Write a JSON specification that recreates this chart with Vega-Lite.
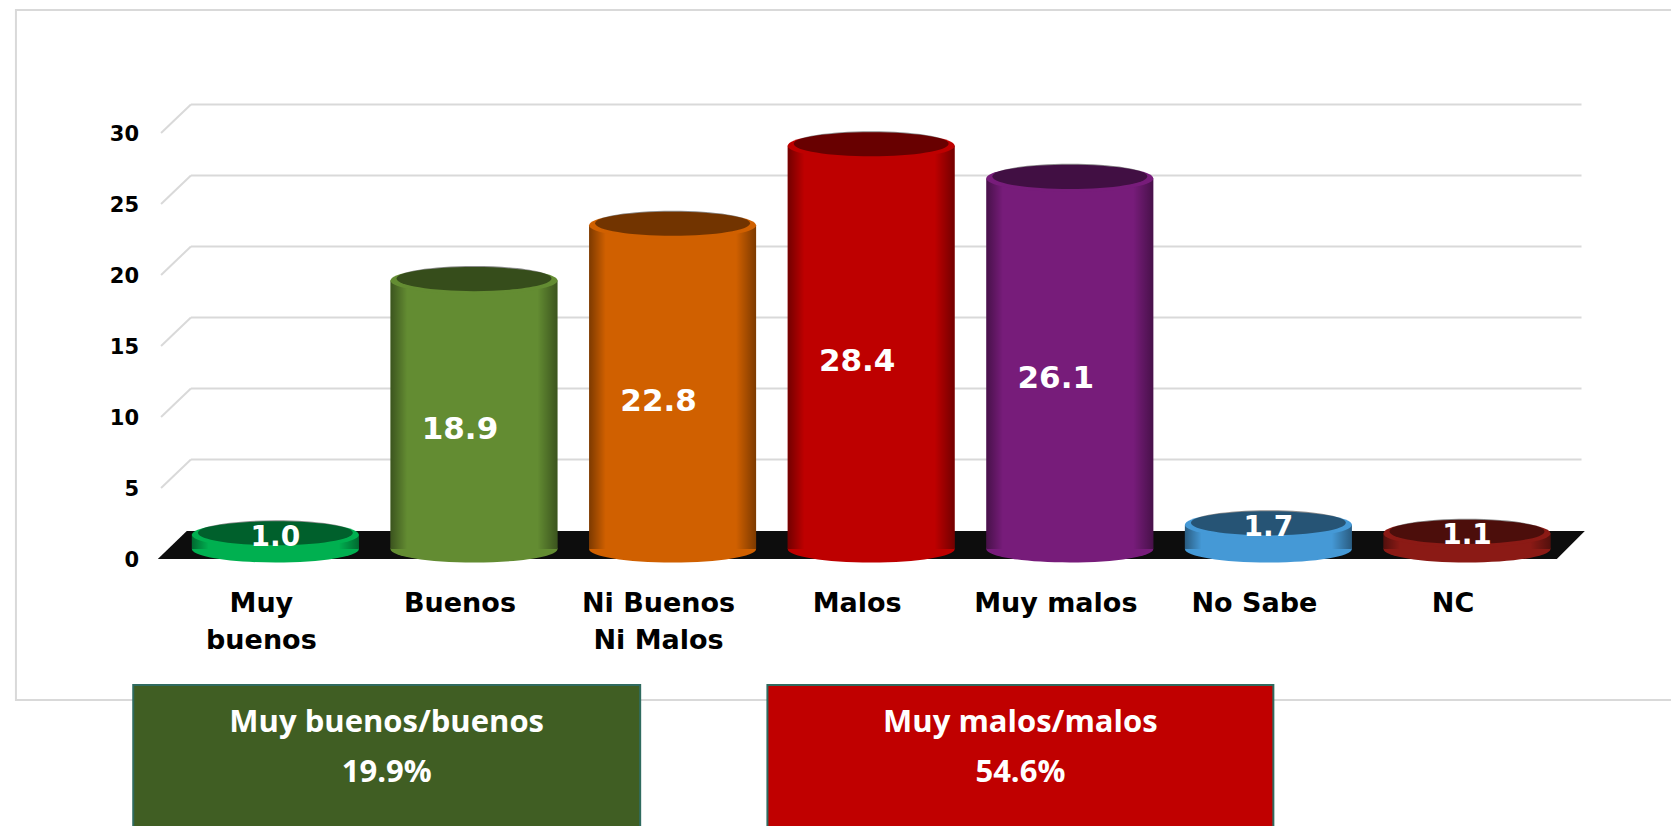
{
  "$schema": "https://vega.github.io/schema/vega-lite/v6.json",
  "width": 1671,
  "height": 826,
  "autosize": {"type": "none"},
  "padding": 0,
  "background": "white",
  "config": {"view": {"stroke": null}},
  "datasets": {
    "resultados": [
      {"categoria": "Muy buenos", "etiqueta": "Muy\nbuenos", "valor": 1.0},
      {"categoria": "Buenos", "etiqueta": "Buenos", "valor": 18.9},
      {"categoria": "Ni Buenos Ni Malos", "etiqueta": "Ni Buenos\nNi Malos", "valor": 22.8},
      {"categoria": "Malos", "etiqueta": "Malos", "valor": 28.4},
      {"categoria": "Muy malos", "etiqueta": "Muy malos", "valor": 26.1},
      {"categoria": "No Sabe", "etiqueta": "No Sabe", "valor": 1.7},
      {"categoria": "NC", "etiqueta": "NC", "valor": 1.1}
    ],
    "resumen": [
      {"grupo": "Muy buenos/buenos", "total": 0.199},
      {"grupo": "Muy malos/malos", "total": 0.546}
    ],
    "ticks": [{"t": 0}, {"t": 5}, {"t": 10}, {"t": 15}, {"t": 20}, {"t": 25}, {"t": 30}]
  },
  "layer": [
    {
      "data": {"values": [{}]},
      "mark": {"type": "rect", "fill": "white", "stroke": "#d9d9d9", "strokeWidth": 2},
      "encoding": {
        "x": {"datum": -0.3063, "type": "quantitative", "scale": {"domain": [-0.3614, 8.002], "nice": false, "zero": false}, "axis": null},
        "x2": {"datum": 8.3},
        "y": {"datum": 38.662, "type": "quantitative", "scale": {"domain": [-18.803, 39.366], "nice": false, "zero": false}, "axis": null},
        "y2": {"datum": -9.93}
      }
    },
    {
      "data": {"name": "ticks"},
      "transform": [{"filter": "datum.t > 0"}],
      "mark": {"type": "rule", "color": "#d9d9d9", "strokeWidth": 2, "y2Offset": -28.5},
      "encoding": {
        "x": {"datum": 0.4244, "type": "quantitative", "scale": {"domain": [-0.3614, 8.002], "nice": false, "zero": false}, "axis": null},
        "x2": {"datum": 0.5746},
        "y": {"field": "t", "type": "quantitative", "scale": {"domain": [-18.803, 39.366], "nice": false, "zero": false}, "axis": null},
        "y2": {"field": "t"}
      }
    },
    {
      "data": {"name": "ticks"},
      "transform": [{"filter": "datum.t > 0"}],
      "mark": {"type": "rule", "color": "#d9d9d9", "strokeWidth": 2, "yOffset": -28.5},
      "encoding": {
        "x": {"datum": 0.5746, "type": "quantitative", "scale": {"domain": [-0.3614, 8.002], "nice": false, "zero": false}, "axis": null},
        "x2": {"datum": 7.5766},
        "y": {"field": "t", "type": "quantitative", "scale": {"domain": [-18.803, 39.366], "nice": false, "zero": false}, "axis": null}
      }
    },
    {
      "data": {"name": "ticks"},
      "mark": {"type": "text", "font": "DejaVu Sans", "fontSize": 21, "fontWeight": "bold", "color": "#000000", "align": "right", "baseline": "middle", "dx": -22, "dy": 2},
      "encoding": {
        "x": {"datum": 0.4244, "type": "quantitative", "scale": {"domain": [-0.3614, 8.002], "nice": false, "zero": false}, "axis": null},
        "y": {"field": "t", "type": "quantitative", "scale": {"domain": [-18.803, 39.366], "nice": false, "zero": false}, "axis": null},
        "text": {"field": "t", "type": "quantitative", "format": "d"}
      }
    },
    {
      "data": {"values": [{}]},
      "mark": {"type": "point", "shape": "M-7.135,0.14L6.855,0.14L7.135,-0.14L-6.845,-0.14Z", "size": 40000, "filled": true, "opacity": 1, "color": "#0d0d0d", "strokeWidth": 0, "yOffset": -14},
      "encoding": {
        "x": {"datum": 4.0005, "type": "quantitative", "scale": {"domain": [-0.3614, 8.002], "nice": false, "zero": false}, "axis": null},
        "y": {"datum": 0, "type": "quantitative", "scale": {"domain": [-18.803, 39.366], "nice": false, "zero": false}, "axis": null}
      }
    },
    {
      "data": {"name": "resultados"},
      "transform": [
        {"window": [{"op": "row_number", "as": "orden"}]},
        {"calculate": "datum.valor / 2", "as": "mitad"}
      ],
      "layer": [
        {
          "mark": {"type": "point", "shape": "M-1,0A1,0.162,0,1,0,1,0A1,0.162,0,1,0,-1,0Z", "size": 27889, "filled": true, "opacity": 1, "strokeWidth": 0, "yOffset": -10},
          "encoding": {
            "x": {"field": "orden", "type": "quantitative", "scale": {"domain": [-0.3614, 8.002], "nice": false, "zero": false}, "axis": null},
            "y": {"datum": 0, "type": "quantitative", "scale": {"domain": [-18.803, 39.366], "nice": false, "zero": false}, "axis": null},
            "color": {"field": "categoria", "type": "nominal", "scale": {"domain": ["Muy buenos", "Buenos", "Ni Buenos Ni Malos", "Malos", "Muy malos", "No Sabe", "NC"], "range": ["#00B050", "#638C32", "#D06000", "#BE0000", "#771C7A", "#4599D6", "#8B1A15"]}, "legend": null}
          }
        },
        {
          "mark": {"type": "bar", "width": 167, "orient": "vertical", "yOffset": -10, "y2Offset": -10},
          "encoding": {
            "x": {"field": "orden", "type": "quantitative", "scale": {"domain": [-0.3614, 8.002], "nice": false, "zero": false}, "axis": null},
            "y": {"field": "valor", "type": "quantitative", "scale": {"domain": [-18.803, 39.366], "nice": false, "zero": false}, "axis": null},
            "y2": {"datum": 0},
            "color": {"field": "categoria", "type": "nominal", "scale": {"domain": ["Muy buenos", "Buenos", "Ni Buenos Ni Malos", "Malos", "Muy malos", "No Sabe", "NC"], "range": ["#00B050", "#638C32", "#D06000", "#BE0000", "#771C7A", "#4599D6", "#8B1A15"]}, "legend": null}
          }
        },
        {
          "mark": {"type": "bar", "width": 167, "orient": "vertical", "yOffset": -10, "y2Offset": -10,
                   "fill": {"gradient": "linear", "x1": 0, "y1": 0, "x2": 1, "y2": 0, "stops": [
                     {"offset": 0, "color": "rgba(0,0,0,0.40)"},
                     {"offset": 0.1, "color": "rgba(0,0,0,0.0)"},
                     {"offset": 0.88, "color": "rgba(0,0,0,0.0)"},
                     {"offset": 1, "color": "rgba(0,0,0,0.40)"}]}},
          "encoding": {
            "x": {"field": "orden", "type": "quantitative", "scale": {"domain": [-0.3614, 8.002], "nice": false, "zero": false}, "axis": null},
            "y": {"field": "valor", "type": "quantitative", "scale": {"domain": [-18.803, 39.366], "nice": false, "zero": false}, "axis": null},
            "y2": {"datum": 0}
          }
        },
        {
          "mark": {"type": "point", "shape": "M-1,0A1,0.162,0,1,0,1,0A1,0.162,0,1,0,-1,0Z", "size": 27889, "filled": true, "opacity": 1, "strokeWidth": 0, "yOffset": -10},
          "encoding": {
            "x": {"field": "orden", "type": "quantitative", "scale": {"domain": [-0.3614, 8.002], "nice": false, "zero": false}, "axis": null},
            "y": {"field": "valor", "type": "quantitative", "scale": {"domain": [-18.803, 39.366], "nice": false, "zero": false}, "axis": null},
            "color": {"field": "categoria", "type": "nominal", "scale": {"domain": ["Muy buenos", "Buenos", "Ni Buenos Ni Malos", "Malos", "Muy malos", "No Sabe", "NC"], "range": ["#00B050", "#638C32", "#D06000", "#BE0000", "#771C7A", "#4599D6", "#8B1A15"]}, "legend": null}
          }
        },
        {
          "mark": {"type": "point", "shape": "M-1,0A1,0.162,0,1,0,1,0A1,0.162,0,1,0,-1,0Z", "size": 24000, "filled": true, "opacity": 0.45, "color": "#000000", "strokeWidth": 0, "yOffset": -12},
          "encoding": {
            "x": {"field": "orden", "type": "quantitative", "scale": {"domain": [-0.3614, 8.002], "nice": false, "zero": false}, "axis": null},
            "y": {"field": "valor", "type": "quantitative", "scale": {"domain": [-18.803, 39.366], "nice": false, "zero": false}, "axis": null}
          }
        },
        {
          "transform": [{"filter": "datum.valor >= 5"}],
          "mark": {"type": "text", "font": "DejaVu Sans", "fontSize": 31, "fontWeight": "bold", "color": "white", "baseline": "middle", "align": "center", "yOffset": 5, "dx": -14},
          "encoding": {
            "x": {"field": "orden", "type": "quantitative", "scale": {"domain": [-0.3614, 8.002], "nice": false, "zero": false}, "axis": null},
            "y": {"field": "mitad", "type": "quantitative", "scale": {"domain": [-18.803, 39.366], "nice": false, "zero": false}, "axis": null},
            "text": {"field": "valor", "type": "quantitative", "format": ".1f"}
          }
        },
        {
          "transform": [{"filter": "datum.valor < 5"}],
          "mark": {"type": "text", "font": "DejaVu Sans", "fontSize": 28, "fontWeight": "bold", "color": "white", "baseline": "middle", "align": "center", "yOffset": -7},
          "encoding": {
            "x": {"field": "orden", "type": "quantitative", "scale": {"domain": [-0.3614, 8.002], "nice": false, "zero": false}, "axis": null},
            "y": {"field": "valor", "type": "quantitative", "scale": {"domain": [-18.803, 39.366], "nice": false, "zero": false}, "axis": null},
            "text": {"field": "valor", "type": "quantitative", "format": ".1f"}
          }
        },
        {
          "mark": {"type": "text", "font": "DejaVu Sans", "fontSize": 27, "fontWeight": "bold", "color": "#000000", "baseline": "top", "align": "center", "yOffset": 32, "dx": -14, "lineBreak": "\n", "lineHeight": 37},
          "encoding": {
            "x": {"field": "orden", "type": "quantitative", "scale": {"domain": [-0.3614, 8.002], "nice": false, "zero": false}, "axis": null},
            "y": {"datum": 0, "type": "quantitative", "scale": {"domain": [-18.803, 39.366], "nice": false, "zero": false}, "axis": null},
            "text": {"field": "etiqueta", "type": "nominal"}
          }
        }
      ]
    },
    {
      "data": {"name": "resumen"},
      "transform": [{"filter": "datum.grupo === 'Muy buenos/buenos'"}],
      "layer": [
        {
          "mark": {"type": "rect", "fill": "#405E23", "stroke": "#2F6B5F", "strokeWidth": 2},
          "encoding": {
            "x": {"datum": 0.2843, "type": "quantitative", "scale": {"domain": [-0.3614, 8.002], "nice": false, "zero": false}, "axis": null},
            "x2": {"datum": 2.8368},
            "y": {"datum": -8.873, "type": "quantitative", "scale": {"domain": [-18.803, 39.366], "nice": false, "zero": false}, "axis": null},
            "y2": {"datum": -25}
          }
        },
        {
          "mark": {"type": "text", "font": "Open Sans", "fontSize": 31, "fontWeight": "bold", "color": "white", "baseline": "middle", "align": "center", "yOffset": 38},
          "encoding": {
            "x": {"datum": 1.5605, "type": "quantitative", "scale": {"domain": [-0.3614, 8.002], "nice": false, "zero": false}, "axis": null},
            "y": {"datum": -8.873, "type": "quantitative", "scale": {"domain": [-18.803, 39.366], "nice": false, "zero": false}, "axis": null},
            "text": {"field": "grupo", "type": "nominal"}
          }
        },
        {
          "mark": {"type": "text", "font": "Open Sans", "fontSize": 31, "fontWeight": "bold", "color": "white", "baseline": "middle", "align": "center", "yOffset": 88},
          "encoding": {
            "x": {"datum": 1.5605, "type": "quantitative", "scale": {"domain": [-0.3614, 8.002], "nice": false, "zero": false}, "axis": null},
            "y": {"datum": -8.873, "type": "quantitative", "scale": {"domain": [-18.803, 39.366], "nice": false, "zero": false}, "axis": null},
            "text": {"field": "total", "type": "quantitative", "format": ".1%"}
          }
        }
      ]
    },
    {
      "data": {"name": "resumen"},
      "transform": [{"filter": "datum.grupo === 'Muy malos/malos'"}],
      "layer": [
        {
          "mark": {"type": "rect", "fill": "#C00000", "stroke": "#2F6B5F", "strokeWidth": 2},
          "encoding": {
            "x": {"datum": 3.4775, "type": "quantitative", "scale": {"domain": [-0.3614, 8.002], "nice": false, "zero": false}, "axis": null},
            "x2": {"datum": 6.025},
            "y": {"datum": -8.873, "type": "quantitative", "scale": {"domain": [-18.803, 39.366], "nice": false, "zero": false}, "axis": null},
            "y2": {"datum": -25}
          }
        },
        {
          "mark": {"type": "text", "font": "Open Sans", "fontSize": 31, "fontWeight": "bold", "color": "white", "baseline": "middle", "align": "center", "yOffset": 38},
          "encoding": {
            "x": {"datum": 4.7512, "type": "quantitative", "scale": {"domain": [-0.3614, 8.002], "nice": false, "zero": false}, "axis": null},
            "y": {"datum": -8.873, "type": "quantitative", "scale": {"domain": [-18.803, 39.366], "nice": false, "zero": false}, "axis": null},
            "text": {"field": "grupo", "type": "nominal"}
          }
        },
        {
          "mark": {"type": "text", "font": "Open Sans", "fontSize": 31, "fontWeight": "bold", "color": "white", "baseline": "middle", "align": "center", "yOffset": 88},
          "encoding": {
            "x": {"datum": 4.7512, "type": "quantitative", "scale": {"domain": [-0.3614, 8.002], "nice": false, "zero": false}, "axis": null},
            "y": {"datum": -8.873, "type": "quantitative", "scale": {"domain": [-18.803, 39.366], "nice": false, "zero": false}, "axis": null},
            "text": {"field": "total", "type": "quantitative", "format": ".1%"}
          }
        }
      ]
    }
  ]
}
